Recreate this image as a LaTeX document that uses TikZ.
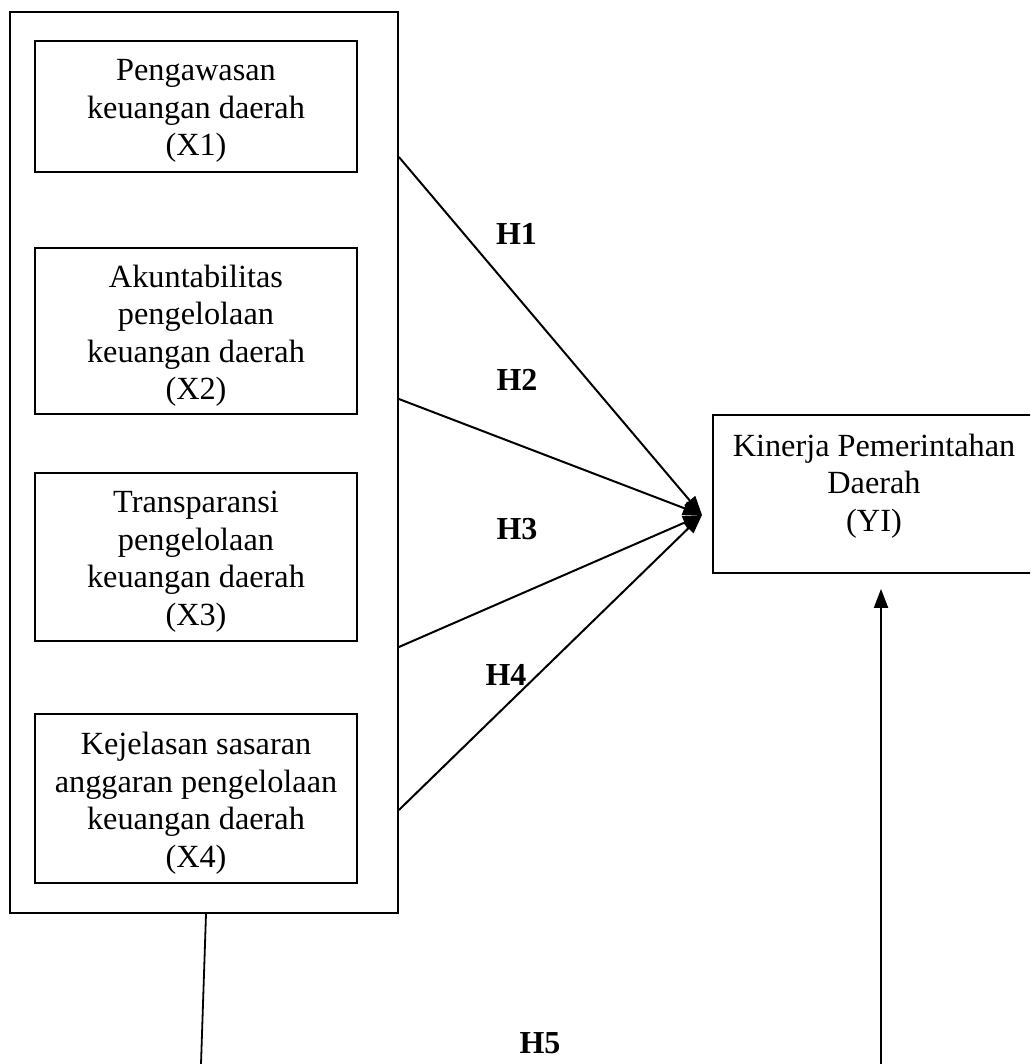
\documentclass[tikz,border=0pt]{standalone}
\usepackage{fontspec}
\setmainfont{Liberation Serif}
\usetikzlibrary{arrows.meta}
\begin{document}
\begin{tikzpicture}[x=1pt,y=-1pt,
  box/.style={draw, line width=1.8pt, inner sep=0pt},
  txt/.style={inner sep=0pt, align=center, font=\fontsize{32.3}{37.5}\selectfont},
  hlabel/.style={inner sep=0pt, font=\fontsize{32}{37.5}\selectfont\bfseries},
  link/.style={line width=2pt, -{Triangle[length=19pt,width=14pt]}},
  plain/.style={line width=1.8pt}]
\useasboundingbox (0,0) rectangle (1030,1064);
\clip (0,0) rectangle (1030,1064);
% left group
\node[box, minimum width=388pt, minimum height=901pt] (outer) at (204,462.5) {};
\node[box, minimum width=322pt, minimum height=131pt] (x1) at (196,106.5) {};
\node[txt] (x1t) at (196,111) {Pengawasan\\keuangan daerah\\(X1)};
\node[box, minimum width=322pt, minimum height=166pt] (x2) at (196,331) {};
\node[txt] (x2t) at (196,335.5) {Akuntabilitas\\pengelolaan\\keuangan daerah\\(X2)};
\node[box, minimum width=322pt, minimum height=168pt] (x3) at (196,557) {};
\node[txt] (x3t) at (196,561.5) {Transparansi\\pengelolaan\\keuangan daerah\\(X3)};
\node[box, minimum width=322pt, minimum height=169pt] (x4) at (196,798.5) {};
\node[txt] (x4t) at (196,803) {Kejelasan sasaran\\anggaran pengelolaan\\keuangan daerah\\(X4)};
% dependent variable
\node[box, minimum width=322pt, minimum height=158pt] (y) at (874,494) {};
\node[txt] (ytxt) at (874,486) {Kinerja Pemerintahan\\Daerah\\(YI)};
% connectors
\coordinate (tip) at (702,515);
\draw[link] (outer.east |- 0,157) -- (tip);
\draw[link] (outer.east |- 0,399) -- (tip);
\draw[link] (outer.east |- 0,647) -- (tip);
\draw[link] (outer.east |- 0,810) -- (tip);
\coordinate (lb) at (201,1064);
\draw[plain] ([xshift=2pt]outer.south) -- (lb);
\coordinate (rb) at (881,1064);
\draw[link, shorten >=15pt] (rb) -- (rb |- y.south);
% labels
\node[hlabel] (h1) at (516.5,233.5) {H1};
\node[hlabel] (h2) at (517,380) {H2};
\node[hlabel] (h3) at (517,529) {H3};
\node[hlabel] (h4) at (506,675) {H4};
\node[hlabel] (h5) at (540,1043) {H5};
\end{tikzpicture}
\end{document}
